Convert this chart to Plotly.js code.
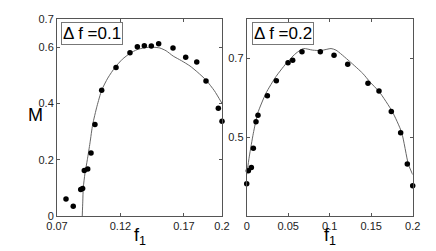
<!DOCTYPE html>
<html><head><meta charset="utf-8">
<script src="https://cdn.plot.ly/plotly-3.0.1.min.js"></script>
<style>body{margin:0;background:#fff;}#chart{width:436px;height:251px;}</style>
</head><body><div id="chart"></div>
<script>
// Left panel (Δf = 0.1): measured points
const leftDotsX = [0.0771,0.0828,0.0887,0.0902,0.0915,0.0942,0.0968,0.0999,0.1052,0.1165,0.1275,0.1333,0.1388,0.1443,0.1501,0.1614,0.1714,0.1801,0.1874,0.1971,0.2000];
const leftDotsY = [0.060,0.035,0.094,0.098,0.162,0.167,0.224,0.325,0.447,0.528,0.580,0.601,0.605,0.604,0.612,0.597,0.564,0.547,0.480,0.383,0.337];
// Left panel: fitted curve
const leftCurveX = [0.0899,0.0903,0.0907,0.0920,0.0939,0.0960,0.0981,0.1015,0.1052,0.1100,0.1157,0.1215,0.1275,0.1330,0.1390,0.1450,0.1510,0.1560,0.1616,0.1680,0.1748,0.1810,0.1874,0.1940,0.2000];
const leftCurveY = [0.000,0.050,0.100,0.150,0.200,0.260,0.325,0.390,0.447,0.490,0.528,0.557,0.578,0.591,0.598,0.600,0.597,0.587,0.568,0.552,0.533,0.510,0.483,0.445,0.400];
// Right panel (Δf = 0.2): measured points
const rightDotsX = [0.0000,0.0020,0.0056,0.0080,0.0112,0.0136,0.0249,0.0357,0.0498,0.0554,0.0666,0.0887,0.1052,0.1217,0.1461,0.1594,0.1742,0.1855,0.1935,0.2000];
const rightDotsY = [0.382,0.415,0.423,0.472,0.539,0.556,0.605,0.643,0.689,0.695,0.717,0.717,0.708,0.685,0.637,0.617,0.565,0.511,0.432,0.377];
// Right panel: fitted curve
const rightCurveX = [0.0000,0.0032,0.0080,0.0133,0.0233,0.0353,0.0494,0.0594,0.0683,0.0795,0.0896,0.1016,0.1076,0.1237,0.1398,0.1486,0.1598,0.1754,0.1867,0.1947,0.2000];
const rightCurveY = [0.405,0.452,0.510,0.561,0.612,0.654,0.692,0.713,0.725,0.721,0.720,0.725,0.721,0.693,0.662,0.640,0.615,0.565,0.512,0.432,0.405];
// Tick labels
const leftXTicks = [0.07,0.12,0.17,0.2];
const leftYTicks = [0,0.2,0.4,0.6,0.7];
const rightXTicks = [0,0.05,0.1,0.15,0.2];
const rightYTicks = [0.5,0.7];
const leftLabel = "Δ f =0.1";
const rightLabel = "Δ f =0.2";

const W = 436, H = 251;
const px = v => v / W, py = v => 1 - v / H;
const FONT = "Liberation Sans, Arial, sans-serif";
const lineCol = "#555";
const dotStyle = {color:"#000", size:5.5};

const traces = [
  {x:leftCurveX, y:leftCurveY, xaxis:"x", yaxis:"y", mode:"lines", line:{color:"#666", width:1, shape:"spline", smoothing:0.6}, hoverinfo:"skip"},
  {x:leftDotsX, y:leftDotsY, xaxis:"x", yaxis:"y", mode:"markers", marker:dotStyle, cliponaxis:false},
  {x:rightCurveX, y:rightCurveY, xaxis:"x2", yaxis:"y2", mode:"lines", line:{color:"#666", width:1, shape:"spline", smoothing:0.6}, hoverinfo:"skip"},
  {x:rightDotsX, y:rightDotsY, xaxis:"x2", yaxis:"y2", mode:"markers", marker:dotStyle, cliponaxis:false}
];

const axBase = {showline:true, linecolor:lineCol, linewidth:1, mirror:"ticks", ticks:"inside", ticklen:3, tickcolor:lineCol,
  showgrid:false, zeroline:false, tickfont:{family:FONT, size:11, color:"#222"}, tickmode:"array"};

const layout = {
  width:W, height:H, margin:{l:0,r:0,t:0,b:0}, showlegend:false,
  paper_bgcolor:"#fff", plot_bgcolor:"#fff",
  font:{family:FONT},
  xaxis:Object.assign({}, axBase, {domain:[px(57),px(222)], range:[0.07,0.2], tickvals:leftXTicks, ticktext:leftXTicks.map(String), anchor:"y"}),
  yaxis:Object.assign({}, axBase, {domain:[py(216),py(19)], range:[0,0.7], tickvals:leftYTicks, ticktext:leftYTicks.map(String), anchor:"x"}),
  xaxis2:Object.assign({}, axBase, {domain:[px(246.7),px(412.7)], range:[0,0.2], tickvals:rightXTicks, ticktext:rightXTicks.map(String), anchor:"y2"}),
  yaxis2:Object.assign({}, axBase, {domain:[py(216),py(19)], range:[0.3,0.8], tickvals:rightYTicks, ticktext:rightYTicks.map(String), anchor:"x2"}),
  annotations:[
    {text:leftLabel, xref:"paper", yref:"paper", x:px(61), y:py(22), xanchor:"left", yanchor:"top", showarrow:false,
     font:{family:FONT, size:17, color:"#000"}, bgcolor:"#fff", bordercolor:"#777", borderwidth:1, borderpad:1},
    {text:rightLabel, xref:"paper", yref:"paper", x:px(252), y:py(22), xanchor:"left", yanchor:"top", showarrow:false,
     font:{family:FONT, size:17, color:"#000"}, bgcolor:"#fff", bordercolor:"#777", borderwidth:1, borderpad:1},
    {text:"M", xref:"paper", yref:"paper", x:px(35.5), y:py(115), xanchor:"center", yanchor:"middle", showarrow:false,
     font:{family:FONT, size:18, color:"#000"}},
    {text:"f<sub>1</sub>", xref:"paper", yref:"paper", x:px(140), y:py(236), xanchor:"center", yanchor:"middle", showarrow:false,
     font:{family:FONT, size:18, color:"#000"}},
    {text:"f<sub>1</sub>", xref:"paper", yref:"paper", x:px(330), y:py(236), xanchor:"center", yanchor:"middle", showarrow:false,
     font:{family:FONT, size:18, color:"#000"}}
  ]
};
Plotly.newPlot("chart", traces, layout, {displayModeBar:false, staticPlot:true});
</script></body></html>
